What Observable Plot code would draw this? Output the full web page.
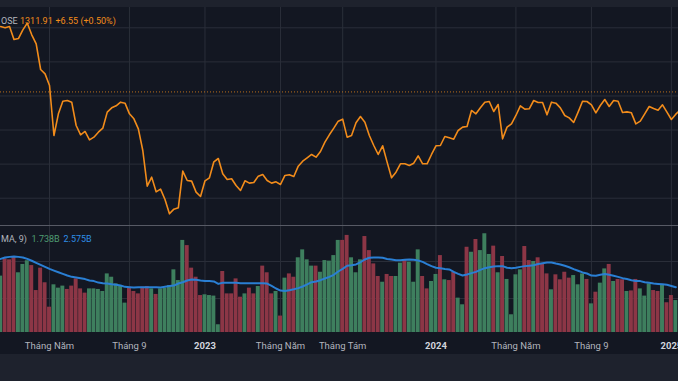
<!DOCTYPE html>
<html><head><meta charset="utf-8">
<script src="https://cdn.jsdelivr.net/npm/d3@7"></script>
<script src="https://cdn.jsdelivr.net/npm/@observablehq/plot@0.6"></script>
<style>
html,body{margin:0;padding:0;background:#131722;width:678px;height:381px;overflow:hidden;font-family:Roboto,"Noto Sans",sans-serif}
.band{background:#1e222d}
#sep{height:1px;background:#575a65}
svg{display:block}
</style></head><body>
<div class="band" style="height:7px"></div>
<div id="price"></div>
<div id="sep"></div>
<div id="vol"></div>
<div class="band" style="height:27px"></div>
<script>
// Weekly VN-Index closes, first week starting 2022-02-14
const firstWeek = "2022-02-14";
const closes = [1503.8,1499.9,1503.8,1465.7,1468.6,1494.0,1513.6,1479.4,1453.0,1377.7,
1364.9,1330.7,1184.0,1247.6,1284.7,1286.7,1281.8,1213.4,1186.0,1195.8,
1171.3,1179.1,1193.8,1205.5,1252.5,1265.2,1271.1,1281.8,1278.9,1247.6,
1232.9,1203.6,1140.0,1035.4,1061.8,1018.7,1026.6,996.2,954.2,967.9,
971.8,1079.4,1052.0,1050.0,1017.8,1005.0,1051.0,1059.8,1106.8,1116.5,
1071.5,1054.9,1056.9,1037.3,1022.7,1051.0,1044.2,1046.1,1064.7,1069.6,
1052.0,1044.2,1048.1,1040.2,1066.7,1068.6,1063.7,1094.0,1108.7,1118.5,
1128.3,1120.4,1137.1,1164.5,1186.0,1205.5,1226.1,1231.9,1179.1,1184.0,
1221.2,1239.8,1223.1,1184.0,1154.7,1128.3,1153.7,1105.8,1059.8,1076.4,
1100.9,1100.9,1096.0,1102.8,1124.4,1100.9,1100.9,1128.3,1153.7,1154.7,
1181.1,1177.2,1173.2,1198.7,1208.5,1210.4,1257.4,1247.6,1265.2,1281.8,
1283.8,1254.4,1275.0,1174.2,1208.5,1218.2,1242.7,1271.1,1261.3,1262.3,
1286.7,1280.8,1280.8,1244.7,1281.8,1278.9,1265.2,1242.7,1235.8,1222.2,
1252.5,1284.7,1283.8,1274.0,1250.5,1272.0,1289.6,1269.1,1286.7,1284.7,
1251.5,1253.4,1250.5,1218.2,1226.1,1247.6,1269.1,1263.2,1258.3,1274.0,
1252.5,1230.9,1246.6,1259.3];
// Weekly volume (billions)
const volumes = [3.21,4.14,4.09,4.23,3.39,3.84,4.04,3.78,2.43,3.64,
2.85,1.53,2.74,2.56,2.67,2.49,2.67,3.06,2.52,2.29,
2.52,2.52,2.49,2.38,3.33,3.15,2.79,2.65,1.75,2.61,
2.38,2.25,2.61,2.65,2.52,2.22,2.52,2.56,2.70,3.55,
2.97,5.14,4.86,3.64,3.15,2.16,2.20,2.16,2.13,0.58,
3.46,2.25,2.25,3.06,2.07,2.25,2.56,2.25,2.65,3.75,
3.39,2.25,2.38,1.05,3.10,3.33,3.15,4.20,4.63,4.09,
3.75,3.75,3.42,4.05,4.02,4.32,5.14,5.14,5.41,4.20,
3.39,4.09,5.35,4.59,3.87,3.19,2.88,3.30,3.19,3.19,
3.91,4.09,3.96,2.88,4.63,3.19,2.52,2.92,3.30,4.32,
3.01,2.97,3.42,2.02,1.66,4.77,4.50,5.19,4.59,5.50,
4.38,4.83,3.39,4.27,3.03,1.12,3.28,3.55,4.81,4.05,
4.00,4.20,3.84,3.33,2.47,3.28,3.01,3.42,3.10,3.24,
2.74,3.33,3.03,1.71,2.34,2.83,3.60,3.84,2.92,3.03,
3.01,2.38,2.41,3.03,2.52,2.13,2.79,2.43,2.38,2.74,
1.77,2.16,1.89];
// 1 = up week (green), 0 = down week (red)
const volUp = [1,0,0,0,1,1,1,0,0,0, 0,0,1,1,1,0,0,0,0,0, 1,1,1,1,1,1,1,1,1,0,
0,0,0,0,1,0,1,1,1,1, 1,1,0,0,0,0,1,1,1,1, 0,0,0,0,0,1,0,0,1,0,
0,0,1,0,1,0,0,1,1,1, 1,0,1,1,1,1,1,0,0,1, 1,1,0,0,0,0,1,0,0,1,
1,0,1,1,1,0,0,1,1,0, 1,0,0,1,1,0,1,0,1,1, 1,0,1,0,1,1,1,1,0,0,
1,0,0,0,1,0,0,0,0,1, 1,1,0,1,0,1,1,0,1,0, 0,1,0,0,1,1,1,0,0,1, 0,0,1];
// Volume MA(9) (billions)
const volMA = [4.14,4.22,4.25,4.27,4.25,4.22,4.14,4.04,3.93,3.82,
3.71,3.60,3.51,3.42,3.33,3.24,3.17,3.14,3.10,3.05,
2.97,2.94,2.86,2.83,2.81,2.77,2.74,2.70,2.63,2.61,
2.59,2.61,2.61,2.61,2.61,2.61,2.59,2.63,2.67,2.70,
2.81,2.88,2.97,3.03,3.01,2.97,2.94,2.94,2.92,2.79,
2.85,2.85,2.85,2.85,2.83,2.83,2.83,2.83,2.83,2.83,
2.81,2.68,2.54,2.43,2.40,2.45,2.50,2.56,2.65,2.76,
2.88,2.92,2.99,3.08,3.17,3.28,3.46,3.60,3.77,3.80,
3.84,3.96,4.11,4.20,4.22,4.22,4.20,4.14,4.11,4.07,
4.07,4.09,4.11,4.09,4.05,3.98,3.86,3.75,3.66,3.64,
3.60,3.57,3.44,3.33,3.24,3.30,3.37,3.44,3.55,3.64,
3.69,3.73,3.75,3.75,3.66,3.64,3.66,3.71,3.75,3.77,
3.80,3.86,3.91,3.95,3.95,3.89,3.84,3.77,3.69,3.59,
3.50,3.41,3.35,3.24,3.23,3.28,3.32,3.28,3.23,3.17,
3.10,3.05,2.99,2.95,2.94,2.88,2.85,2.81,2.79,2.77,
2.74,2.68,2.61];
const priceTicks = [1000,1100,1200,1300,1400,1500];
const volTicks = [2,4];
const tickDates = ["2022-05-02","2022-09-05","2023-01-02","2023-05-01","2023-08-07","2024-01-01","2024-05-06","2024-09-02","2025-01-06"];
const tickLabels = ["Tháng Năm","Tháng 9","2023","Tháng Năm","Tháng Tám","2024","Tháng Năm","Tháng 9","2025"];
const tickIsYear = [0,0,1,0,0,1,0,0,1];
const lastPrice = 1311.91;
const legendPrice = ["OSE","1311.91","+6.55 (+0.50%)"];
const legendVol = ["MA, 9)","1.738B","2.575B"];

const C = {grid:"#2a2e39", orange:"#f28c1b", green:"#3e7f5e", red:"#8c3646", blue:"#2a7fd4", text:"#b2b5be", year:"#d1d4dc"};
const t0 = new Date(firstWeek + "T00:00Z");
const dateOf = i => d3.utcDay.offset(t0, 7 * i);
const rows = closes.map((c, i) => ({date: dateOf(i), close: c}));
const vrows = volumes.map((v, i) => ({date: dateOf(i), v, up: volUp[i], ma: volMA[i]}));
const ticks = tickDates.map((d, i) => ({date: new Date(d + "T00:00Z"), label: tickLabels[i], year: tickIsYear[i]}));
const xDomain = [new Date("2022-02-13T18:20Z"), new Date("2025-01-17T05:00Z")];
const font = "Roboto, 'Noto Sans', sans-serif";

const legend = (txt, dx, dy, fill) => Plot.text([txt], {frameAnchor: "top-left", text: d => d, dx, dy, textAnchor: "start", lineAnchor: "middle", fill, fontSize: 9});

const price = Plot.plot({
  width: 678, height: 218, margin: 0,
  style: {background: "transparent", fontFamily: font, fontSize: "9.5px"},
  x: {type: "utc", domain: xDomain, axis: null},
  y: {domain: [919.9, 1559.6], axis: null},
  marks: [
    Plot.ruleY(priceTicks, {stroke: C.grid, strokeWidth: 1}),
    Plot.ruleX(ticks, {x: "date", stroke: C.grid, strokeWidth: 1}),
    Plot.ruleY([lastPrice], {stroke: C.orange, strokeOpacity: 0.75, strokeDasharray: "1,2", strokeWidth: 1}),
    Plot.line(rows, {x: "date", y: "close", stroke: C.orange, strokeWidth: 1.6, clip: true}),
    legend(legendPrice[0], 0.5, 13.7, C.text),
    legend(legendPrice[1], 19.5, 13.7, C.orange),
    legend(legendPrice[2], 55, 13.7, C.orange)
  ]
});
document.getElementById("price").append(price);

const vol = Plot.plot({
  width: 678, height: 128, marginTop: 0, marginBottom: 22, marginLeft: 0, marginRight: 0,
  style: {background: "transparent", fontFamily: font, fontSize: "9.5px"},
  x: {type: "utc", domain: xDomain, axis: null},
  y: {domain: [0.162, 5.892], axis: null},
  marks: [
    Plot.ruleY(volTicks, {stroke: C.grid, strokeWidth: 1}),
    Plot.ruleX(ticks, {x: "date", stroke: C.grid, strokeWidth: 1}),
    Plot.rectY(vrows, {
      x1: d => d3.utcHour.offset(d.date, -84), x2: d => d3.utcHour.offset(d.date, 84),
      y1: 0, y2: "v", insetLeft: 0.25, insetRight: 0.25,
      fill: d => d.up ? C.green : C.red, clip: true
    }),
    Plot.line(vrows, {x: "date", y: "ma", stroke: C.blue, strokeWidth: 2, clip: true}),
    legend(legendVol[0], 0.5, 13, C.text),
    legend(legendVol[1], 31, 13, "#4f9d72"),
    legend(legendVol[2], 63, 13, "#2e8ee6"),
    Plot.text(ticks.filter(d => !d.year), {x: "date", text: "label", frameAnchor: "bottom", dy: 13.5, lineAnchor: "middle", fill: C.text}),
    Plot.text(ticks.filter(d => d.year), {x: "date", text: "label", frameAnchor: "bottom", dy: 13.5, lineAnchor: "middle", fill: C.year, fontWeight: "bold"})
  ]
});
document.getElementById("vol").append(vol);
</script></body></html>
